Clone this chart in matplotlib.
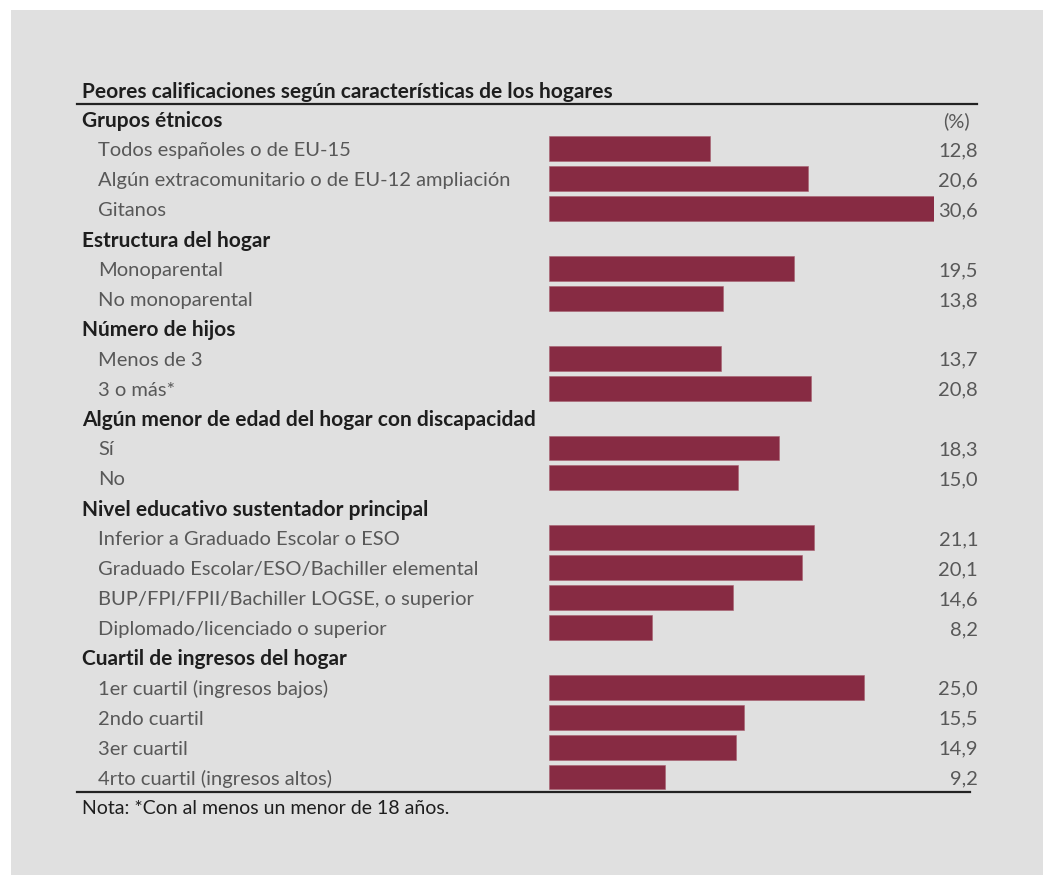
import matplotlib
matplotlib.use("Agg")
import matplotlib.pyplot as plt
from matplotlib.patches import Rectangle
from matplotlib.lines import Line2D
import matplotlib.transforms as mtransforms

# ---- data ----
title = "Peores calificaciones según características de los hogares"
note = "Nota: *Con al menos un menor de 18 años."
unit_label = "(%)"

group_names = [
    "Grupos étnicos",
    "Estructura del hogar",
    "Número de hijos",
    "Algún menor de edad del hogar con discapacidad",
    "Nivel educativo sustentador principal",
    "Cuartil de ingresos del hogar",
]
etnia_labels = ["Todos españoles o de EU-15", "Algún extracomunitario o de EU-12 ampliación", "Gitanos"]
etnia_values = [12.8, 20.6, 30.6]
estructura_labels = ["Monoparental", "No monoparental"]
estructura_values = [19.5, 13.8]
hijos_labels = ["Menos de 3", "3 o más*"]
hijos_values = [13.7, 20.8]
discap_labels = ["Sí", "No"]
discap_values = [18.3, 15.0]
educ_labels = ["Inferior a Graduado Escolar o ESO", "Graduado Escolar/ESO/Bachiller elemental",
               "BUP/FPI/FPII/Bachiller LOGSE, o superior", "Diplomado/licenciado o superior"]
educ_values = [21.1, 20.1, 14.6, 8.2]
cuartil_labels = ["1er cuartil (ingresos bajos)", "2ndo cuartil", "3er cuartil", "4rto cuartil (ingresos altos)"]
cuartil_values = [25.0, 15.5, 14.9, 9.2]

groups = [
    (group_names[0], etnia_labels, etnia_values),
    (group_names[1], estructura_labels, estructura_values),
    (group_names[2], hijos_labels, hijos_values),
    (group_names[3], discap_labels, discap_values),
    (group_names[4], educ_labels, educ_values),
    (group_names[5], cuartil_labels, cuartil_values),
]

# build rows
rows = []  # (kind, label, value)
for gname, labs, vals in groups:
    rows.append(("h", gname, None))
    for l, v in zip(labs, vals):
        rows.append(("i", l, v))
n = len(rows)

W, H = 1043, 875
fig = plt.figure(figsize=(W / 100, H / 100), dpi=100)
fig.patch.set_facecolor("white")
fig.patches.append(Rectangle((11 / W, 0), 1 - 11 / W, 1 - 10 / H, transform=fig.transFigure,
                             facecolor="#e0e0e0", edgecolor="none", zorder=-10))

def fx(px):
    return px / W

def fy(py):
    return 1 - py / H

top_px, bot_px = 104, 792
ax = fig.add_axes([fx(549), fy(bot_px), fx(934) - fx(549), (bot_px - top_px) / H])
ax.set_facecolor("none")
ax.set_xlim(0, 30.6)
ax.set_ylim(n - 0.5, -0.5)
ax.axis("off")

bar_color = "#872b43"
ys = [i for i, r in enumerate(rows) if r[0] == "i"]
vals = [r[2] for r in rows if r[0] == "i"]
ax.barh(ys, vals, height=0.83, color=bar_color, edgecolor="#a86070", linewidth=0.4, left=0)

# text transform: x in figure fraction, y in row units, nudged 2 px down
trans = mtransforms.blended_transform_factory(fig.transFigure, ax.transData) + \
    mtransforms.ScaledTranslation(0, -2 / 100, fig.dpi_scale_trans)
head_font = dict(family=["Lato", "DejaVu Sans"], fontsize=15, fontweight="bold", color="#1e1e1e")
item_font = dict(family=["Lato", "DejaVu Sans"], fontsize=14.5, fontweight="normal", color="#585858")
for i, (kind, lab, v) in enumerate(rows):
    if kind == "h":
        fig.text(fx(82), i, lab, transform=trans, va="center", ha="left", **head_font)
    else:
        fig.text(fx(98), i, lab, transform=trans, va="center", ha="left", **item_font)
        fig.text(fx(978), i, f"{v:.1f}".replace(".", ","), transform=trans, va="center", ha="right",
                 **item_font)

fig.text(fx(970), 0, unit_label, transform=trans, va="center", ha="right", **item_font)

# title, rules, note
fig.text(fx(82), fy(92), title, va="center", ha="left", family=["Lato", "DejaVu Sans"],
         fontsize=15, fontweight="bold", color="#1e1e1e")
fig.lines.append(Line2D([fx(77), fx(977)], [fy(top_px), fy(top_px)], transform=fig.transFigure,
                        color="#222222", linewidth=1.6))
fig.lines.append(Line2D([fx(77), fx(970)], [fy(bot_px), fy(bot_px)], transform=fig.transFigure,
                        color="#222222", linewidth=1.6))
fig.text(fx(82), fy(808), note, va="center", ha="left", family=["Lato", "DejaVu Sans"],
         fontsize=14, color="#1e1e1e")

fig.savefig("out.png", dpi=100)
